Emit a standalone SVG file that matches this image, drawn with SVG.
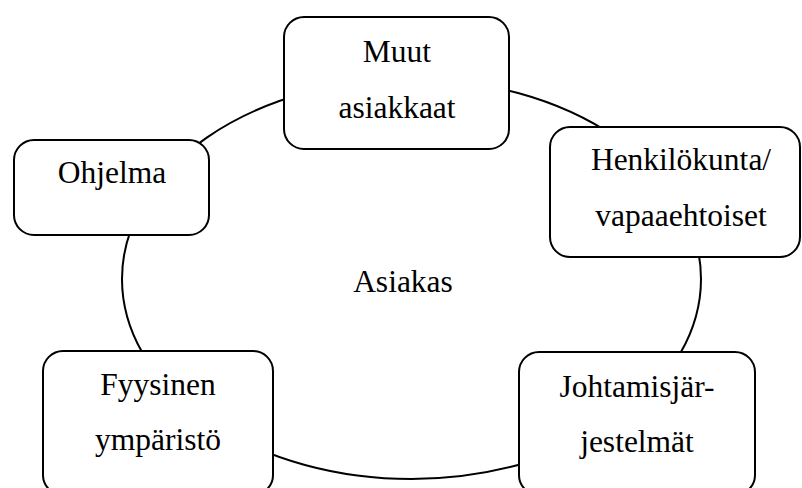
<svg xmlns="http://www.w3.org/2000/svg" width="802" height="488" viewBox="0 0 802 488">
<style>
.box{fill:#fff;stroke:#000;stroke-width:2}
.ring{fill:none;stroke:#000;stroke-width:2}
text{font-family:"Liberation Serif","Times New Roman",serif;font-size:31.5px;fill:#000;text-anchor:middle}
</style>
<rect width="802" height="488" fill="#fff"/>
<g id="connectors">
<ellipse class="ring" cx="411.5" cy="279" rx="289.5" ry="200"/>
</g>
<g id="center"><text x="403" y="292">Asiakas</text></g>
<g id="muut"><rect class="box" x="284" y="17" width="225" height="132" rx="20"/><text x="397" y="62">Muut</text><text x="397" y="118">asiakkaat</text></g>
<g id="ohjelma"><rect class="box" x="14" y="140" width="195" height="95" rx="20"/><text x="112" y="183">Ohjelma</text></g>
<g id="henkilokunta"><rect class="box" x="550" y="127" width="250" height="130" rx="20"/><text x="681" y="170">Henkilökunta/</text><text x="681" y="226">vapaaehtoiset</text></g>
<g id="fyysinen"><rect class="box" x="43" y="351" width="230" height="144" rx="20"/><text x="158" y="395">Fyysinen</text><text x="158" y="450">ympäristö</text></g>
<g id="johtamis"><rect class="box" x="519" y="352" width="236" height="143" rx="20"/><text x="637" y="397">Johtamisjär-</text><text x="637" y="452">jestelmät</text></g>
</svg>
